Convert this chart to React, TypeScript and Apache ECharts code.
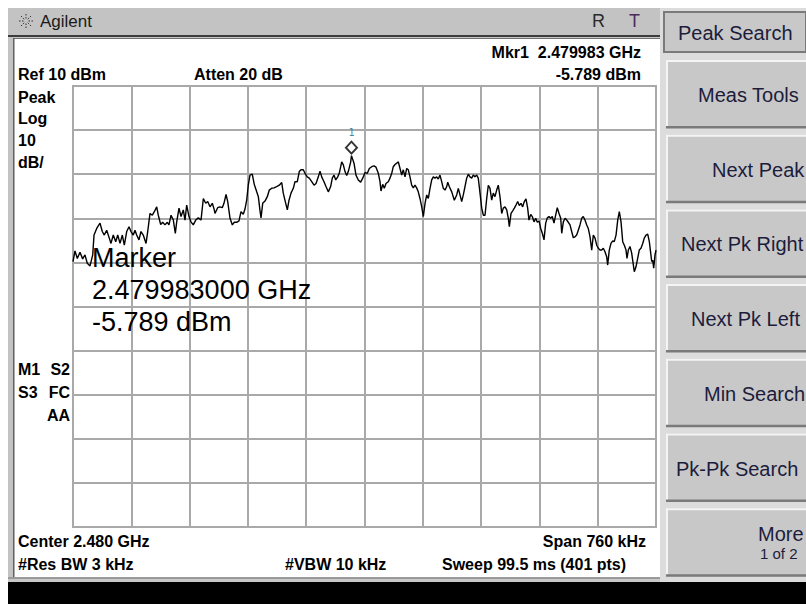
import React, { useEffect, useRef } from "react";
import * as echarts from "echarts";

// ---- Data ----
// Trace: frequency offset from centre (kHz) and level (dBm)
const traceKHz = [
  -380, -377.4, -374.4, -370.9, -367.4, -364.4, -361.4, -357.8, -354.3, -352.6,
  -349.1, -344.8, -341.8, -339.2, -336.1, -332.7, -330.5, -327.5, -324.3, -321.7,
  -318.7, -315.7, -313.1, -310.0, -307.0, -304.4, -301.4, -299.2, -297.0, -294.0,
  -291.4, -288.4, -284.8, -282.6, -279.6, -276.6, -274.0, -270.9, -268.8, -265.7,
  -263.1, -260.1, -257.1, -254.9, -252.2, -249.2, -246.6, -244.8, -241.8, -239.2,
  -236.2, -234.0, -231.8, -228.8, -226.2, -223.2, -220.0, -216.7, -213.1, -210.1,
  -207.0, -204.4, -201.4, -198.4, -195.8,
  -194.9, -191.4, -188.4, -185.4, -183.2, -180.5, -178.3, -175.3, -172.3, -169.7,
  -166.6, -163.6, -161.0, -158.0, -155.8, -153.6, -151.5, -149.3, -146.3, -143.7,
  -140.5, -138.4, -136.2, -134.9, -132.7, -129.7, -126.7, -124.1, -121.0, -118.0,
  -114.5, -111.1, -107.9, -105.9, -102.7, -100.6, -98.4, -95.8, -92.8, -90.6,
  -87.6, -85.0, -82.8, -79.8, -77.6, -74.6, -72.0, -68.8, -65.8, -63.2,
  -60.2, -58.0, -55.8, -52.8, -50.2, -47.2, -44.1, -42.0, -39.8, -37.5,
  -34.9, -32.9, -29.7, -27.6, -25.4, -23.2, -21.1, -18.0, -17.0, -13.7,
  -11.1, -8.1, -5.0, -2.3,
  0.7, 3.7, 6.3, 9.4, 12.4, 15.0, 18.0, 20.2, 21.5, 23.7,
  25.8, 28.0, 31.0, 33.2, 35.5, 37.5, 39.8, 42.0, 44.1, 46.3,
  48.5, 50.6, 52.8, 55.0, 57.1, 59.3, 61.5, 63.6, 65.8, 68.0,
  70.1, 72.3, 74.6, 76.7, 78.9, 81.1, 83.2, 85.4, 87.6, 89.7,
  91.9, 94.1, 96.2, 98.4, 100.6, 102.7, 104.9, 107.2, 108.5, 110.5,
  113.7, 117.1, 120.2, 122.3, 124.5, 126.7, 128.8, 131.0, 133.2, 135.3,
  137.5, 139.7, 141.8, 144.0, 146.3, 148.3, 150.6, 152.8, 154.9, 157.1,
  159.3, 161.4, 163.6, 165.8, 167.9, 170.1, 172.3, 174.4, 176.6, 178.9,
  180.9,
  183.2, 185.4, 187.5, 188.8, 191.0, 193.2, 195.3, 197.5, 199.7, 201.8,
  204.0, 206.2, 208.3, 210.5, 212.7, 214.4, 216.7, 218.7, 221.0, 223.2,
  225.3, 227.5, 229.7, 231.8, 234.0, 236.2, 238.3, 240.5, 242.7, 244.8,
  247.0, 249.2, 251.3, 253.6, 255.8, 257.1, 259.2, 261.4, 263.6, 265.7,
  267.9, 270.1, 272.2, 274.4, 276.6, 278.7, 280.9, 283.1, 285.2, 287.4,
  289.7, 291.7, 294.0, 296.2, 298.3, 300.5, 302.7, 304.8, 307.0, 309.2,
  311.3, 313.5, 315.7, 317.0, 319.1, 321.3, 323.6, 325.6, 327.9, 330.1,
  332.2, 334.4, 336.6, 338.7, 340.9, 342.2, 343.9, 346.1, 348.3, 351.7,
  353.9, 356.1, 358.2, 360.4, 362.7, 364.7, 367.0, 369.2, 371.3, 373.1,
  374.4, 375.7, 377.0, 378.7, 380.0,
];

const traceDbm = [
  -29.8, -27.4, -29.1, -27.7, -29.2, -28.3, -30.2, -30.8, -28.3, -23.8,
  -22.3, -21.1, -23.0, -23.8, -22.7, -24.5, -25.7, -23.8, -25.3, -23.8,
  -25.7, -23.8, -26.1, -23.0, -21.9, -23.0, -23.8, -22.7, -23.8, -24.9,
  -23.0, -23.8, -25.7, -23.0, -18.9, -19.3, -18.5, -17.4, -19.3, -21.4,
  -20.9, -21.5, -20.9, -21.5, -19.3, -20.4, -23.4, -20.8, -17.7, -19.6,
  -18.1, -20.4, -17.0, -19.6, -20.8, -21.5, -20.4, -19.9, -20.4, -15.5,
  -16.6, -16.2, -17.4, -16.6, -18.1,
  -18.9, -17.6, -17.4, -17.6, -16.6, -14.6, -16.2, -20.0, -21.5, -20.9,
  -20.9, -20.6, -18.5, -19.1, -17.9, -15.9, -12.5, -10.2, -10.0, -12.3,
  -14.0, -15.1, -18.3, -19.9, -16.6, -16.1, -15.1, -13.6, -13.2, -13.1,
  -12.8, -12.5, -11.9, -14.3, -16.6, -18.1, -15.9, -14.3, -13.2, -11.7,
  -11.7, -9.4, -9.0, -9.0, -9.8, -10.6, -10.9, -11.7, -12.5, -12.1,
  -10.6, -9.3, -10.6, -11.7, -12.8, -14.0, -12.8, -10.9, -10.2, -11.3,
  -10.6, -9.8, -7.2, -7.9, -9.4, -10.3, -9.4, -7.2, -5.789, -7.5,
  -10.2, -11.3, -11.8, -10.9,
  -9.6, -9.8, -8.7, -8.3, -8.1, -8.4, -9.8, -11.7, -13.8, -12.3,
  -13.2, -12.1, -11.7, -10.9, -9.8, -8.3, -7.8, -7.5, -7.2, -8.7,
  -10.2, -9.0, -10.6, -8.7, -9.0, -10.6, -12.5, -13.1, -12.5, -13.1,
  -14.0, -15.5, -17.4, -19.6, -16.6, -14.7, -15.5, -13.2, -11.3, -10.6,
  -10.9, -10.6, -11.1, -10.2, -11.7, -13.2, -13.6, -12.8, -11.8, -12.8,
  -14.0, -15.9, -14.7, -13.2, -14.7, -16.2, -14.7, -12.8, -10.9, -10.0,
  -10.6, -10.9, -10.2, -10.6, -10.2, -10.9, -14.3, -17.7, -19.3, -19.3,
  -15.5, -12.5, -13.2, -15.9, -14.3, -15.1, -13.6, -12.5, -15.1, -18.9,
  -17.7,
  -17.4, -18.1, -20.0, -21.9, -18.9, -18.3, -17.7, -17.0, -16.2, -17.1,
  -16.6, -17.4, -16.2, -15.6, -17.7, -20.4, -19.1, -19.6, -20.8, -20.0,
  -20.9, -20.6, -22.3, -23.4, -24.9, -21.1, -19.9, -19.6, -20.0, -19.6,
  -21.1, -19.3, -17.6, -18.9, -20.0, -23.4, -20.8, -20.0, -20.4, -20.9,
  -21.5, -23.0, -24.4, -24.2, -23.8, -22.7, -21.5, -20.0, -19.6, -20.4,
  -21.5, -22.3, -24.2, -27.2, -23.8, -24.5, -26.1, -26.8, -27.2, -27.2,
  -26.8, -27.6, -28.7, -30.6, -27.2, -25.7, -25.1, -25.3, -23.8, -20.4,
  -18.5, -20.8, -25.3, -26.1, -27.2, -29.1, -27.2, -26.4, -27.9, -32.1,
  -31.0, -29.1, -27.2, -26.8, -25.7, -24.5, -23.8, -23.6, -25.3, -27.9,
  -29.8, -29.5, -31.3, -28.3, -27.2,
];

const centerGHz = 2.48;
const spanKHz = 760;
const refLevelDbm = 10;
const dbPerDiv = 10;
const divisions = 10;
const markerFreqKHz = -17;
const markerLevelDbm = -5.789;

const leftStatus = ["Peak", "Log", "10", "dB/"];
const softkeys = ["Meas Tools", "Next Peak", "Next Pk Right", "Next Pk Left", "Min Search", "Pk-Pk Search", "More"];
const softkeyLeft = [698, 712, 681, 691, 704, 676, 758];

// ---- Layout ----
const BOLD = 'bold 16px "Liberation Sans", Arial, sans-serif';
const REG = '"Liberation Sans", Arial, sans-serif';

function txt(x: number, y: number, text: string, font: string, fill = "#000", align = "left") {
  return {
    type: "text",
    x,
    y,
    z: 100,
    silent: true,
    style: { text, font, fill, textAlign: align, textVerticalAlign: "middle", align, verticalAlign: "middle" },
  };
}

function rect(x: number, y: number, w: number, h: number, fill: string, z = 1, extra: any = {}) {
  return { type: "rect", z, silent: true, shape: { x, y, width: w, height: h }, style: { fill, ...extra } };
}

function buildGraphic() {
  const g: any[] = [];
  // title bar
  g.push(rect(8, 8, 652, 27, "#c3c3c3"));
  g.push(rect(8, 35, 652, 2, "#3c3c3c"));
  g.push(rect(8, 37, 652, 1, "#c8c8c8"));
  g.push(rect(8, 38, 652, 1, "#707070"));
  // left border
  g.push(rect(8, 37, 6, 545, "#c3c3c3"));
  g.push(rect(13, 38, 1.5, 540, "#606060"));
  // bottom border + black band
  g.push(rect(8, 577, 655, 2, "#9a9a9a"));
  g.push(rect(8, 579, 798, 3, "#c8c8c8"));
  g.push(rect(8, 582, 798, 22, "#000000"));
  // Agilent logo (radiating dashes)
  for (let i = 0; i < 8; i++) {
    const a = (i * Math.PI) / 4;
    g.push({
      type: "line",
      z: 100,
      silent: true,
      shape: { x1: 26 + Math.cos(a) * 2.5, y1: 21 + Math.sin(a) * 2.5, x2: 26 + Math.cos(a) * 8, y2: 21 + Math.sin(a) * 8 },
      style: { stroke: "#303030", lineWidth: 1, lineDash: [1.5, 1.5] },
    });
  }
  g.push(txt(40, 21, "Agilent", `17px ${REG}`, "#1a1a1a"));
  g.push(txt(592, 21, "R", `18px ${REG}`, "#2a2a2a"));
  g.push(txt(629, 21, "T", `18px ${REG}`, "#4a2a5a"));

  // softkey panel
  g.push(rect(660, 8, 146, 574, "#dcdcdc"));
  g.push(rect(664, 12, 142, 40, "#c8c8c8", 2, { stroke: "#7a7a7a", lineWidth: 2 }));
  g.push(txt(678, 33, "Peak Search", `20px ${REG}`, "#1c1c3c"));
  softkeys.forEach((label, i) => {
    const top = 60 + i * 74.7;
    g.push(rect(666, top, 140, 68, "#c8c8c8", 2));
    g.push(rect(666, top, 140, 2, "#f4f4f4", 3));
    g.push(rect(666, top, 2, 68, "#f4f4f4", 3));
    g.push(rect(666, top + 66, 140, 2.5, "#7a7a7a", 3));
    if (label === "More") {
      g.push(txt(softkeyLeft[i], top + 26, label, `20px ${REG}`, "#1c1c3c"));
      g.push(txt(760, top + 45, "1 of 2", `15px ${REG}`, "#1c1c3c"));
    } else {
      g.push(txt(softkeyLeft[i], top + 35, label, `20px ${REG}`, "#1c1c3c"));
    }
  });

  // annotations
  const mkrGHz = (centerGHz + markerFreqKHz / 1e6).toFixed(6);
  g.push(txt(641, 52, `Mkr1  ${mkrGHz} GHz`, BOLD, "#000", "right"));
  g.push(txt(641, 74, `${markerLevelDbm.toFixed(3)} dBm`, BOLD, "#000", "right"));
  g.push(txt(18, 74, `Ref ${refLevelDbm} dBm`, BOLD));
  g.push(txt(194, 74, "Atten 20 dB", BOLD));
  leftStatus.forEach((s, i) => g.push(txt(18, 97 + i * 21.7, s, BOLD)));
  g.push(txt(18, 369, "M1", BOLD));
  g.push(txt(70, 369, "S2", BOLD, "#000", "right"));
  g.push(txt(18, 392, "S3", BOLD));
  g.push(txt(70, 392, "FC", BOLD, "#000", "right"));
  g.push(txt(70, 415, "AA", BOLD, "#000", "right"));
  g.push(txt(18, 541, `Center ${centerGHz.toFixed(3)} GHz`, BOLD));
  g.push(txt(646, 541, `Span ${spanKHz} kHz`, BOLD, "#000", "right"));
  g.push(txt(18, 564, "#Res BW 3 kHz", BOLD));
  g.push(txt(285, 564, "#VBW 10 kHz", BOLD));
  g.push(txt(442, 564, "Sweep 99.5 ms (401 pts)", BOLD));

  const big = `27px ${REG}`;
  g.push(txt(92, 258, "Marker", big));
  g.push(txt(92, 290, `${(centerGHz + markerFreqKHz / 1e6).toFixed(9)} GHz`, big));
  g.push(txt(92, 322, `${markerLevelDbm.toFixed(3)} dBm`, big));
  return g;
}

export default function App() {
  const ref = useRef<HTMLDivElement>(null);
  useEffect(() => {
    if (!ref.current) return;
    const chart = echarts.init(ref.current, null, { renderer: "svg" });
    const half = spanKHz / 2;
    const bottom = refLevelDbm - dbPerDiv * divisions;
    const gridColor = "#a9a9a9";
    chart.setOption({
      animation: false,
      backgroundColor: "#ffffff",
      grid: {
        left: 73,
        top: 86,
        right: 150,
        bottom: 77,
        show: true,
        borderColor: gridColor,
        borderWidth: 2,
        backgroundColor: "transparent",
      },
      xAxis: {
        type: "value",
        min: -half,
        max: half,
        interval: spanKHz / divisions,
        axisLine: { show: false },
        axisTick: { show: false },
        axisLabel: { show: false },
        splitLine: { show: true, lineStyle: { color: gridColor, width: 2 } },
      },
      yAxis: {
        type: "value",
        min: bottom,
        max: refLevelDbm,
        interval: dbPerDiv,
        axisLine: { show: false },
        axisTick: { show: false },
        axisLabel: { show: false },
        splitLine: { show: true, lineStyle: { color: gridColor, width: 2 } },
      },
      series: [
        {
          type: "line",
          data: traceKHz.map((f, i) => [f, traceDbm[i]]),
          showSymbol: false,
          symbol: "none",
          lineStyle: { color: "#000", width: 1.4 },
          z: 3,
          silent: true,
        },
        {
          type: "scatter",
          data: [[markerFreqKHz, markerLevelDbm]],
          symbol: "diamond",
          symbolSize: [11, 12],
          symbolOffset: [0, -8],
          itemStyle: { color: "#ffffff", borderColor: "#000", borderWidth: 2 },
          label: {
            show: true,
            position: "top",
            distance: 3,
            formatter: "1",
            color: "#1f5f7f",
            fontSize: 10,
            fontFamily: "DejaVu Sans Mono",
          },
          z: 4,
          silent: true,
        },
      ],
      graphic: buildGraphic(),
    });
    return () => chart.dispose();
  }, []);
  return (
    <div
      ref={ref}
      style={{ position: "fixed", left: 0, top: 0, width: 806, height: 604, background: "#fff" }}
    />
  );
}
